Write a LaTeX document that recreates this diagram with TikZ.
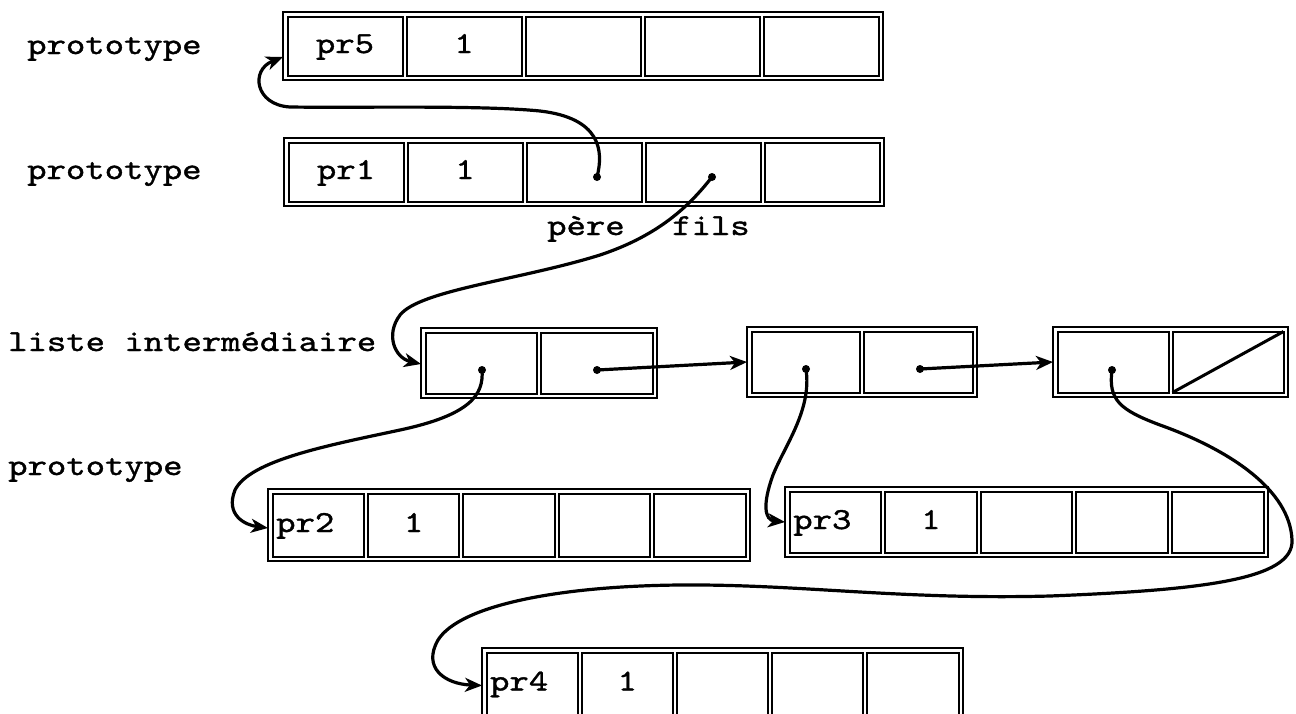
\documentclass[tikz,border=0pt]{standalone}
\usepackage{fontspec}
\setmainfont{Liberation Mono}
\newfontfamily\courfont{lmmono10-regular.otf}[FakeStretch=1.21,FakeBold=1.2]
\usetikzlibrary{arrows.meta,fit,calc}
\newcommand\mkrec[8]{%
  \foreach \txt [count=\i] in {#8} {%
    \ifnum\i=1
      \node[cell,minimum width=#4pt,minimum height=#5pt,anchor=north west,#7] (#1c\i) at ({#2+(\i-1)*(#4+4)},#3) {\txt};
    \else
      \node[cell,minimum width=#4pt,minimum height=#5pt,anchor=north west] (#1c\i) at ({#2+(\i-1)*(#4+4)},#3) {\txt};
    \fi
  }%
  \node[frame,fit=(#1c1)(#1c#6)] (#1) {};
}
\begin{document}
\begin{tikzpicture}[x=1pt,y=-1pt,
  font=\courfont\fontsize{30.5}{36}\selectfont,
  cell/.style={draw,line width=2pt,inner sep=0pt,outer sep=0pt,text height=20pt,text depth=6pt},
  frame/.style={draw,line width=2.4pt,inner sep=4.5pt,outer sep=0pt},
  dot/.style={circle,fill,inner sep=0pt,minimum size=8pt},
  ptr/.style={line width=3.2pt,-{Stealth[length=17pt,width=14pt,inset=5pt]}},
  lbl/.style={anchor=base west,inner sep=0pt},
  leftcell/.style={text width=84pt,align=left}]
\useasboundingbox (0,0) rectangle (1296,713);
\fill[white] (0,0) rectangle (1296,713);

\mkrec{ra}{287.5}{16.5}{115}{59}{5}{}{pr5,1,{},{},{}}
\mkrec{rb}{288.5}{142.5}{115}{59}{5}{}{pr1,1,{},{},{}}
\mkrec{la}{425.5}{332.5}{111.5}{61}{2}{}{{},{}}
\mkrec{lb}{751.5}{331.5}{108.5}{61}{2}{}{{},{}}
\mkrec{lc}{1057.5}{331.5}{111}{61}{2}{}{{},{}}
\mkrec{rc}{272.5}{493.5}{91.4}{63}{5}{leftcell}{pr2,1,{},{},{}}
\mkrec{rd}{789.5}{491.5}{91.6}{61}{5}{leftcell}{pr3,1,{},{},{}}
\mkrec{re}{486.5}{652.5}{91.2}{62}{5}{leftcell}{pr4,1,{},{},{}}

\node[lbl] (p1) at (27,54) {prototype};
\node[lbl] (p2) at (27,179) {prototype};
\node[lbl] (li) at (8,351) {liste intermédiaire};
\node[lbl] (p3) at (8,475) {prototype};
\node[lbl] (pere) at (547,235) {père};
\node[lbl] (fils) at (672,235) {fils};

\node[dot] (d1) at (597,177) {};
\node[dot] (d2) at (712,177) {};
\node[dot] (d3) at (482,370) {};
\node[dot] (d4) at (806,369) {};
\node[dot] (d5) at (1112,370) {};
\node[dot] (d6) at (597,370) {};
\node[dot] (d7) at (920,369) {};

\draw[ptr] (d1.center) .. controls (604,150) and (600,118) .. (540,111) .. controls (480,105) and (360,108) .. (290,107) .. controls (255,105) and (250,70) .. ($(ra.west)+(0,11)$);
\draw[ptr] (d2.center) .. controls (690,205) and (660,235) .. (600,255) .. controls (520,280) and (420,290) .. (400,315) .. controls (385,335) and (395,358) .. ($(la.west)+(0,1)$);
\draw[ptr] (d3.center) .. controls (484,395) and (470,415) .. (400,430) .. controls (330,445) and (250,460) .. (235,490) .. controls (225,515) and (245,525) .. ($(rc.west)+(0,3)$);
\draw[ptr] (d4.center) .. controls (812,410) and (785,445) .. (773,475) .. controls (762,505) and (765,520) .. (rd.west);
\draw[ptr] (d5.center) .. controls (1108,400) and (1120,410) .. (1160,425) .. controls (1230,450) and (1290,490) .. (1292,540) .. controls (1294,580) and (1200,590) .. (1050,596) .. controls (900,600) and (800,584) .. (680,585) .. controls (560,586) and (460,605) .. (438,640) .. controls (422,668) and (445,684) .. ($(re.west)+(0,2)$);
\draw[ptr] (d6.center) -- (lb.west);
\draw[ptr] (d7.center) -- (lc.west);
\draw[line width=3pt] (lcc2.south west) -- (lcc2.north east);
\end{tikzpicture}
\end{document}
